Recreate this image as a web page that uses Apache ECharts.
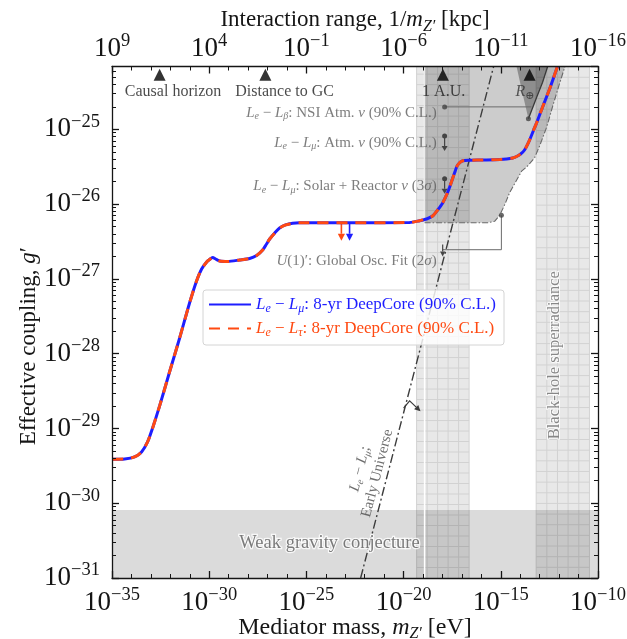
<!DOCTYPE html>
<html>
<head>
<meta charset="utf-8">
<script src="https://cdn.jsdelivr.net/npm/echarts@6/dist/echarts.min.js"></script>
<style>
  html, body { margin: 0; padding: 0; background: #fff; }
  #chart { width: 627px; height: 639px; }
</style>
</head>
<body>
<div id="chart"></div>
<script>
// Every coordinate below is a log10 value: mediator mass in eV (x), coupling g' (y).
const SERIF = "'Liberation Serif', 'DejaVu Serif', serif";
const X_MIN = -35, X_MAX = -10, Y_MIN = -31, Y_MAX = -24.16;

// Axis tick values (exponents)
const massTicks = [-35, -30, -25, -20, -15, -10];
const rangeTicks = [9, 4, -1, -6, -11, -16];          // 1/m in kpc, top axis
const couplingTicks = [-31, -30, -29, -28, -27, -26, -25];

// 8-yr DeepCore 90% C.L. upper limits
const logMassDeepCore = [-35.00, -34.35, -33.84, -33.48, -33.17, -32.91, -32.55, -32.04, -31.52, -31.01,
  -30.65, -30.39, -30.13, -29.98, -29.82, -29.67, -29.46, -29.05, -28.43, -27.92,
  -27.56, -27.25, -27.05, -26.89, -26.63, -26.38, -26.07, -25.71, -25.35, -22.78,
  -19.69, -19.18, -18.82, -18.51, -18.25, -17.99, -17.79, -17.63, -17.38, -17.22,
  -16.96, -16.60, -15.93, -15.06, -14.70, -14.39, -14.19, -13.98, -13.78, -13.52,
  -13.31, -13.16, -12.85, -12.49, -12.13, -12.08];
const logCouplingLeLmu = [-29.412, -29.408, -29.381, -29.314, -29.180, -28.993, -28.699, -28.245, -27.790, -27.322,
  -27.028, -26.868, -26.774, -26.741, -26.714, -26.734, -26.761, -26.767, -26.747, -26.727,
  -26.687, -26.614, -26.533, -26.467, -26.386, -26.320, -26.279, -26.257, -26.250, -26.249,
  -26.246, -26.222, -26.199, -26.159, -26.079, -25.985, -25.878, -25.771, -25.584, -25.477,
  -25.420, -25.414, -25.410, -25.404, -25.397, -25.384, -25.364, -25.330, -25.277, -25.143,
  -25.009, -24.916, -24.702, -24.461, -24.194, -24.160];
const logCouplingLeLtau = [-29.412, -29.408, -29.381, -29.314, -29.180, -28.993, -28.699, -28.245, -27.790, -27.322,
  -27.028, -26.868, -26.774, -26.741, -26.714, -26.734, -26.761, -26.767, -26.747, -26.727,
  -26.687, -26.614, -26.533, -26.467, -26.386, -26.320, -26.279, -26.257, -26.250, -26.249,
  -26.246, -26.222, -26.199, -26.159, -26.079, -25.985, -25.878, -25.771, -25.584, -25.477,
  -25.420, -25.414, -25.410, -25.404, -25.397, -25.384, -25.364, -25.330, -25.277, -25.143,
  -25.009, -24.916, -24.702, -24.461, -24.194, -24.160];

// Existing oscillation bounds: lower/right edge of the excluded region
const logMassExistingEdge = [-18.92, -15.68, -15.32, -15.06, -14.80, -14.55, -14.19, -13.93, -13.62,
  -13.26, -13.00, -12.64, -12.33, -11.98, -11.70];
const logCouplingExistingEdge = [-26.25, -26.25, -26.23, -26.15, -26.01, -25.85, -25.68, -25.56, -25.49,
  -25.38, -25.22, -24.97, -24.69, -24.39, -24.16];

// NSI atmospheric region near R_earth
const logMassNSIWedge = [-14.19, -13.90, -13.58, -13.17, -12.85, -12.59];
const logCouplingNSIWedge = [-24.16, -24.50, -24.86, -24.58, -24.37, -24.16];

// Early-Universe bound
const logMassEarlyUniverse = [-22.21, -15.37];
const logCouplingEarlyUniverse = [-31.00, -24.16];

// Weak gravity conjecture ceiling
const logCouplingWGC = -30.09;

// Vertical bands: 1 A.U. window and black-hole superradiance
const logMassBands = [[-19.33, -16.63], [-13.18, -10.44]];
const logMassAUgap = -18.92;

// Length-scale markers on the top edge
const markerNames = ['Causal horizon', 'Distance to GC', '1 A.U.', 'R⊕'];
const logMassMarkers = [-32.55, -27.11, -17.98, -13.52];
const logCouplingMarkers = -24.27;

// DeepCore limit arrows (L_e - L_tau, L_e - L_mu)
const logMassLimitArrows = [-23.20, -22.78];
const logCouplingLimitArrow = [-26.25, -26.49];

// Bound indicators next to the labels
const logMassBoundMarker = -17.89;
const atmBound = [-25.09, -25.29];
const solarBound = [-25.66, -25.86];
const nsiLeader = [[-17.89, -24.70], [-13.42, -24.70]];
const globalFitLeader = [[-14.97, -26.15], [-14.97, -26.61], [-17.99, -26.61]];
const globalFitArrow = [[-17.99, -26.54], [-17.99, -26.70]];
const earlyUniverseArrow = [[-20.00, -28.73], [-19.69, -28.63], [-19.13, -28.77]];

// Minor ticks at 2..9 x 10^n on the coupling axis
const couplingMinorTicks = [];
for (let n = Y_MIN; n < Y_MAX; n++) {
  for (let k = 2; k <= 9; k++) {
    const v = n + Math.log10(k);
    if (v < Y_MAX) couplingMinorTicks.push(v);
  }
}

const BLUE = '#1e1eff';
const RED = '#ff4a12';
const INK = '#151515';
const NOTE = '#5c5c5c';

const zip = (xs, ys) => xs.map((x, i) => [x, Array.isArray(ys) ? ys[i] : ys]);

function powLabel(v) {
  if (Math.abs(v - Math.round(v)) > 1e-6) return '';
  return '{b|10}{s|' + String(Math.round(v)).replace('-', '−') + '}';
}
const powRich = {
  b: { fontFamily: SERIF, fontSize: 27, color: INK },
  s: { fontFamily: SERIF, fontSize: 18.5, color: INK, padding: [0, 0, 15, 0] }
};
function mathRich(size, color) {
  return {
    i: { fontFamily: SERIF, fontStyle: 'italic', fontSize: size, color: color },
    s: { fontFamily: SERIF, fontStyle: 'italic', fontSize: Math.round(size * 0.68), color: color,
         padding: [Math.round(size * 0.55), 0, 0, 0] }
  };
}

function polygonSeries(xs, ys, fill, z) {
  const pts = zip(xs, ys);
  return {
    type: 'custom', coordinateSystem: 'cartesian2d', silent: true, z: z, clip: true,
    data: [pts[0]],
    renderItem: function (params, api) {
      return { type: 'polygon', shape: { points: pts.map(p => api.coord(p)) }, style: { fill: fill } };
    }
  };
}

function arrowSeries(pts, color, opts) {
  return {
    type: 'custom', coordinateSystem: 'cartesian2d', silent: true, z: opts.z || 7, clip: true,
    data: [pts[pts.length - 1]],
    renderItem: function (params, api) {
      const P = pts.map(p => api.coord(p));
      const n = P.length, a = P[n - 2], b = P[n - 1];
      const dx = b[0] - a[0], dy = b[1] - a[1], L = Math.hypot(dx, dy);
      const ux = dx / L, uy = dy / L;
      const hl = opts.head || 6, hw = opts.headW || 3;
      const base = [b[0] - ux * hl, b[1] - uy * hl];
      const children = [
        { type: 'polyline', shape: { points: P.slice(0, n - 1).concat([base]) },
          style: { stroke: color, lineWidth: opts.width || 1.2, fill: null } },
        { type: 'polygon', shape: { points: [b, [base[0] - uy * hw, base[1] + ux * hw], [base[0] + uy * hw, base[1] - ux * hw]] },
          style: { fill: color } }
      ];
      if (opts.dot) children.push({ type: 'circle', shape: { cx: P[0][0], cy: P[0][1], r: opts.dot }, style: { fill: color } });
      return { type: 'group', children: children };
    }
  };
}

function note(pos, text, opts) {
  const size = (opts && opts.fontSize) || 15;
  const color = (opts && opts.color) || NOTE;
  return {
    value: pos,
    label: Object.assign({
      show: true, formatter: text, position: 'inside', color: color,
      fontFamily: SERIF, fontSize: size, rich: mathRich(size, color)
    }, opts || {})
  };
}

const leftNote = { position: 'left', distance: 0, align: 'right' };

const series = [
  // shaded bands with a fine grid
  {
    type: 'custom', coordinateSystem: 'cartesian2d', silent: true, z: 1, clip: true,
    data: logMassBands,
    renderItem: function (params, api) {
      const tl = api.coord([api.value(0), Y_MAX]);
      const br = api.coord([api.value(1), Y_MIN]);
      const w = br[0] - tl[0], h = br[1] - tl[1], cell = w / 5;
      const kids = [{ type: 'rect', shape: { x: tl[0], y: tl[1], width: w, height: h }, style: { fill: '#e8e8e8' } }];
      const ls = { stroke: '#d2d2d2', lineWidth: 1 };
      for (let i = 0; i <= 5; i++) {
        const x = tl[0] + i * cell;
        kids.push({ type: 'line', shape: { x1: x, y1: tl[1], x2: x, y2: br[1] }, style: ls });
      }
      for (let y = br[1] - cell; y > tl[1]; y -= cell) {
        kids.push({ type: 'line', shape: { x1: tl[0], y1: y, x2: br[0], y2: y }, style: ls });
      }
      return { type: 'group', children: kids };
    }
  },
  {
    type: 'line', silent: true, z: 2, symbol: 'none',
    data: [[logMassAUgap, Y_MIN], [logMassAUgap, Y_MAX]],
    lineStyle: { color: '#ffffff', width: 1.5 }
  },
  // weak gravity conjecture
  {
    type: 'line', silent: true, z: 2, symbol: 'none',
    data: [[X_MIN, logCouplingWGC], [X_MAX, logCouplingWGC]],
    lineStyle: { width: 0 },
    areaStyle: { origin: 'start', color: 'rgba(0,0,0,0.2)' }
  },
  // existing oscillation bounds
  polygonSeries([-18.92].concat(logMassExistingEdge), [Y_MAX].concat(logCouplingExistingEdge), 'rgba(0,0,0,0.2)', 3),
  polygonSeries(logMassNSIWedge, logCouplingNSIWedge, 'rgba(0,0,0,0.3)', 3),
  {
    type: 'line', silent: true, z: 4, symbol: 'none',
    data: zip(logMassExistingEdge, logCouplingExistingEdge),
    lineStyle: { color: '#6a6a6a', width: 1.1, type: [6, 2, 1.5, 2] }
  },
  {
    type: 'line', silent: true, z: 4, symbol: 'none',
    data: zip(logMassNSIWedge.slice(2), logCouplingNSIWedge.slice(2)),
    lineStyle: { color: '#3a3a3a', width: 1.3 }
  },
  // early universe
  {
    type: 'line', silent: true, z: 4, symbol: 'none',
    data: zip(logMassEarlyUniverse, logCouplingEarlyUniverse),
    lineStyle: { color: '#3c3c3c', width: 1.4, type: [9, 3, 2, 3] }
  },
  arrowSeries(earlyUniverseArrow, '#3c3c3c', { width: 1.2, head: 6, headW: 3 }),
  // leaders
  {
    type: 'line', silent: true, z: 5, symbol: 'none',
    data: nsiLeader, lineStyle: { color: '#6a6a6a', width: 1 }
  },
  {
    type: 'line', silent: true, z: 5, symbol: 'none',
    data: globalFitLeader, lineStyle: { color: '#6a6a6a', width: 1 }
  },
  {
    type: 'scatter', silent: true, z: 6, symbol: 'circle', symbolSize: 5,
    itemStyle: { color: '#444' },
    data: [nsiLeader[0], globalFitLeader[0], [logMassNSIWedge[2], logCouplingNSIWedge[2]]]
  },
  arrowSeries([[logMassBoundMarker, atmBound[0]], [logMassBoundMarker, atmBound[1]]], '#444', { dot: 2.5, head: 5, headW: 3 }),
  arrowSeries([[logMassBoundMarker, solarBound[0]], [logMassBoundMarker, solarBound[1]]], '#444', { dot: 2.5, head: 5, headW: 3 }),
  arrowSeries(globalFitArrow, '#444', { head: 5, headW: 2.6 }),
  // DeepCore limits
  {
    name: 'LeLmu', type: 'line', z: 8, symbol: 'none', smooth: 0.25, clip: true,
    data: zip(logMassDeepCore, logCouplingLeLmu),
    lineStyle: { color: BLUE, width: 3 }, itemStyle: { color: BLUE }
  },
  {
    name: 'LeLtau', type: 'line', z: 9, symbol: 'none', smooth: 0.25, clip: true,
    data: zip(logMassDeepCore, logCouplingLeLtau),
    lineStyle: { color: RED, width: 3, type: [11, 8] }, itemStyle: { color: RED }
  },
  arrowSeries([[logMassLimitArrows[0], logCouplingLimitArrow[0]], [logMassLimitArrows[0], logCouplingLimitArrow[1]]], RED, { width: 1.6, head: 7, headW: 3.6, z: 7 }),
  arrowSeries([[logMassLimitArrows[1], logCouplingLimitArrow[0]], [logMassLimitArrows[1], logCouplingLimitArrow[1]]], BLUE, { width: 1.6, head: 7, headW: 3.6, z: 7 }),
  // length-scale markers
  {
    type: 'scatter', silent: true, z: 10, symbol: 'triangle', symbolSize: [12, 12],
    itemStyle: { color: '#000' },
    data: zip(logMassMarkers, logCouplingMarkers)
  },
  // annotations
  {
    type: 'scatter', silent: true, z: 11, symbolSize: 0,
    data: [
      note([-31.86, -24.50], markerNames[0], { color: '#1a1a1a', fontSize: 16 }),
      note([-26.12, -24.50], markerNames[1], { color: '#1a1a1a', fontSize: 16 }),
      note([-17.94, -24.50], markerNames[2], { color: '#1a1a1a', fontSize: 16 }),
      note([-13.76, -24.50], '{i|R}{s|⊕}', { color: '#333', fontSize: 16 }),
      note([-18.30, -24.78], '{i|L}{s|e} − {i|L}{s|β}: NSI Atm. {i|ν} (90% C.L.)', leftNote),
      note([-18.30, -25.18], '{i|L}{s|e} − {i|L}{s|μ}: Atm. {i|ν} (90% C.L.)', leftNote),
      note([-18.30, -25.76], '{i|L}{s|e} − {i|L}{s|μ}: Solar + Reactor {i|ν} (3{i|σ})', leftNote),
      note([-18.30, -26.76], '{i|U}(1)′: Global Osc. Fit (2{i|σ})', leftNote),
      note([-23.81, -30.53], 'Weak gravity conjecture',
        { fontSize: 18.5, color: '#5a5a5a', textBorderColor: '#ffffff', textBorderWidth: 2.5 }),
      note([-12.24, -28.02], 'Black-hole superradiance',
        { fontSize: 16.5, color: '#6a6a6a', rotate: 90, textBorderColor: '#ffffff', textBorderWidth: 2 }),
      note([-21.80, -29.57], '{i|L}{s|e} − {i|L}{s|μ};\nEarly Universe',
        { fontSize: 15, color: '#4a4a4a', rotate: 75.5, lineHeight: 18, align: 'center' })
    ]
  }
];

const axisLine = { onZero: false, lineStyle: { color: INK, width: 1.3 } };
const majorTick = { inside: true, length: 7, lineStyle: { color: INK, width: 1.3 } };
const decadeMinor = { show: true, splitNumber: 5, length: 4, lineStyle: { color: INK, width: 1 } };
const logMinorTick = { show: true, inside: true, length: 4, customValues: couplingMinorTicks, lineStyle: { color: INK, width: 1 } };

const option = {
  animation: false,
  backgroundColor: '#ffffff',
  grid: { left: 112, right: 29, top: 66.5, bottom: 61, containLabel: false, outerBoundsMode: 'none' },
  legend: {
    left: 203, top: 290, orient: 'vertical', z: 30,
    itemWidth: 42, itemHeight: 12, itemGap: 5,
    padding: [6, 8, 6, 5],
    backgroundColor: 'rgba(255,255,255,0.82)', borderColor: '#d4d4d4', borderWidth: 1, borderRadius: 3,
    itemStyle: { color: 'rgba(0,0,0,0)', borderWidth: 0 },
    textStyle: { fontFamily: SERIF, fontSize: 17 },
    data: [
      { name: 'LeLmu', textStyle: { color: BLUE, fontFamily: SERIF, fontSize: 17, rich: mathRich(17, BLUE) } },
      { name: 'LeLtau', textStyle: { color: RED, fontFamily: SERIF, fontSize: 17, rich: mathRich(17, RED) } }
    ],
    formatter: function (name) {
      return name === 'LeLmu'
        ? '{i|L}{s|e} − {i|L}{s|μ}: 8-yr DeepCore (90% C.L.)'
        : '{i|L}{s|e} − {i|L}{s|τ}: 8-yr DeepCore (90% C.L.)';
    }
  },
  xAxis: [
    {
      type: 'value', position: 'bottom', min: X_MIN, max: X_MAX, interval: 5, z: 20,
      axisLine: axisLine, axisTick: majorTick, minorTick: decadeMinor,
      splitLine: { show: false },
      axisLabel: { margin: 8, formatter: powLabel, rich: powRich },
      name: 'Mediator mass, {i|m}{s|Z′} [eV]', nameLocation: 'middle', nameGap: 35, nameMoveOverlap: false,
      nameTextStyle: { fontFamily: SERIF, fontSize: 24, color: INK, rich: mathRich(24, INK) }
    },
    {
      type: 'value', position: 'top', min: -16, max: 9, interval: 5, inverse: true, z: 20,
      axisLine: axisLine, axisTick: majorTick, minorTick: decadeMinor,
      splitLine: { show: false },
      axisLabel: { margin: 1, formatter: powLabel, rich: powRich },
      name: 'Interaction range, 1/{i|m}{s|Z′} [kpc]', nameLocation: 'middle', nameGap: 32, nameMoveOverlap: false,
      nameTextStyle: { fontFamily: SERIF, fontSize: 23, color: INK, rich: mathRich(23, INK) }
    }
  ],
  yAxis: [
    {
      type: 'value', position: 'left', min: Y_MIN, max: Y_MAX, interval: 1, z: 20,
      axisLine: axisLine, axisTick: majorTick,
      splitLine: { show: false },
      axisLabel: { margin: 12, formatter: powLabel, rich: powRich, showMaxLabel: false },
      name: 'Effective coupling, {i|g}′', nameLocation: 'middle', nameGap: 72, nameRotate: 90, nameMoveOverlap: false,
      nameTextStyle: { fontFamily: SERIF, fontSize: 23, color: INK, rich: mathRich(23, INK), padding: [0, 48, 0, 0] }
    },
    {
      type: 'value', position: 'left', min: Y_MIN, max: Y_MAX, z: 20,
      axisLine: { show: false, onZero: false }, axisLabel: { show: false }, splitLine: { show: false },
      axisTick: logMinorTick
    },
    {
      type: 'value', position: 'right', min: Y_MIN, max: Y_MAX, interval: 1, z: 20,
      axisLine: axisLine, axisTick: majorTick,
      splitLine: { show: false }, axisLabel: { show: false }
    },
    {
      type: 'value', position: 'right', min: Y_MIN, max: Y_MAX, z: 20,
      axisLine: { show: false, onZero: false }, axisLabel: { show: false }, splitLine: { show: false },
      axisTick: logMinorTick
    }
  ],
  series: series
};

const chart = echarts.init(document.getElementById('chart'));
chart.setOption(option);
</script>
</body>
</html>
